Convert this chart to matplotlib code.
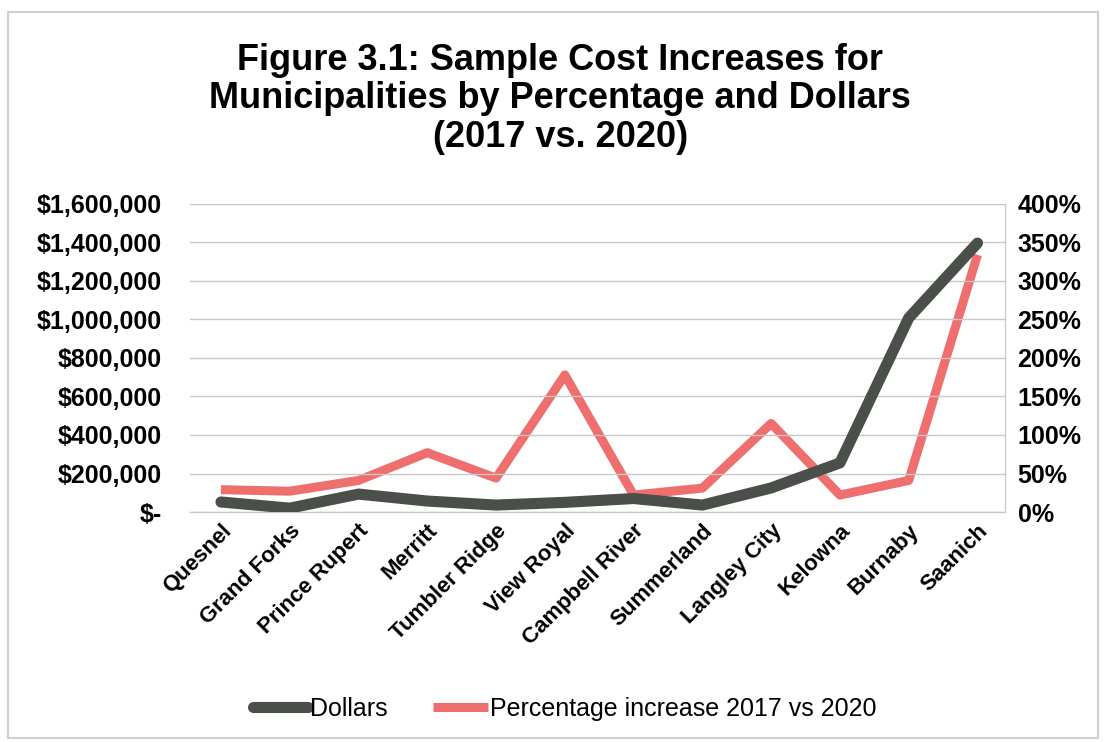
import numpy as np
import matplotlib.pyplot as plt
from matplotlib.ticker import FuncFormatter
from matplotlib.patches import Rectangle

plt.rcParams['font.family'] = ['Liberation Sans', 'DejaVu Sans']

towns = ['Quesnel', 'Grand Forks', 'Prince Rupert', 'Merritt', 'Tumbler Ridge',
         'View Royal', 'Campbell River', 'Summerland', 'Langley City', 'Kelowna',
         'Burnaby', 'Saanich']
dollars = [52000, 20000, 93000, 57000, 36000, 50000, 70000, 36000,
           125000, 255000, 1008000, 1397000]
pct = [29, 27, 41, 77, 44, 178, 22, 31, 115, 22, 41, 334]

dark = '#4a4f4a'
salmon = '#ef6e6e'

fig = plt.figure(figsize=(11.05, 7.42), dpi=100)
ax = fig.add_axes([190/1105, 230/742, 815/1105, 308/742])
ax2 = ax.twinx()

x = np.arange(len(towns))
ax.plot(x, dollars, color=dark, lw=8, solid_capstyle='round', solid_joinstyle='round',
        label='Dollars', zorder=3)
ax2.plot(x, pct, color=salmon, lw=6.5, solid_capstyle='butt', solid_joinstyle='round',
         label='Percentage increase 2017 vs 2020', zorder=2)
# dollars drawn above the percentage line
ax.set_zorder(ax2.get_zorder() + 1)
ax.patch.set_visible(False)

ax.set_xlim(-0.45, len(towns) - 0.6)
ax.set_ylim(0, 1600000)
ax2.set_ylim(0, 400)
ax.set_yticks(np.arange(0, 1600001, 200000))
ax2.set_yticks(np.arange(0, 401, 50))


def dfmt(v, p):
    return '$-' if v == 0 else '${:,.0f}'.format(v)


ax.yaxis.set_major_formatter(FuncFormatter(dfmt))
ax2.yaxis.set_major_formatter(FuncFormatter(lambda v, p: '{:.0f}%'.format(v)))
ax.grid(axis='y', color='#c8c8c8', lw=1)
ax.set_axisbelow(True)

for a in (ax, ax2):
    for s in ('top', 'left'):
        a.spines[s].set_visible(False)
    a.spines['bottom'].set_color('#c8c8c8')
    a.spines['right'].set_color('#c8c8c8')
    a.tick_params(length=0)

ax.tick_params(axis='y', labelsize=18, pad=20)
ax2.tick_params(axis='y', labelsize=18, pad=9)
for lab in ax.get_yticklabels() + ax2.get_yticklabels():
    lab.set_fontweight('bold')

ax.set_xticks(x)
ax.set_xticklabels(towns, rotation=45, ha='right', rotation_mode='anchor',
                   fontsize=16, fontweight='bold')
ax.tick_params(axis='x', pad=6)

fig.text(0.507, 0.942, 'Figure 3.1: Sample Cost Increases for\n'
         'Municipalities by Percentage and Dollars\n(2017 vs. 2020)',
         ha='center', va='top', fontsize=26, fontweight='bold', linespacing=1.12)

h1, l1 = ax.get_legend_handles_labels()
h2, l2 = ax2.get_legend_handles_labels()
fig.legend(h1 + h2, l1 + l2, loc='center', bbox_to_anchor=(0.511, 0.045),
           ncol=2, frameon=False, fontsize=18, handlelength=2.2,
           handletextpad=0.1, columnspacing=1.8)

fig.patches.append(Rectangle((8/1105, 4/742), 1090/1105, 726/742,
                             transform=fig.transFigure, fill=False,
                             edgecolor='#d0d0d0', lw=1.5))

fig.savefig('out.png', dpi=100)
